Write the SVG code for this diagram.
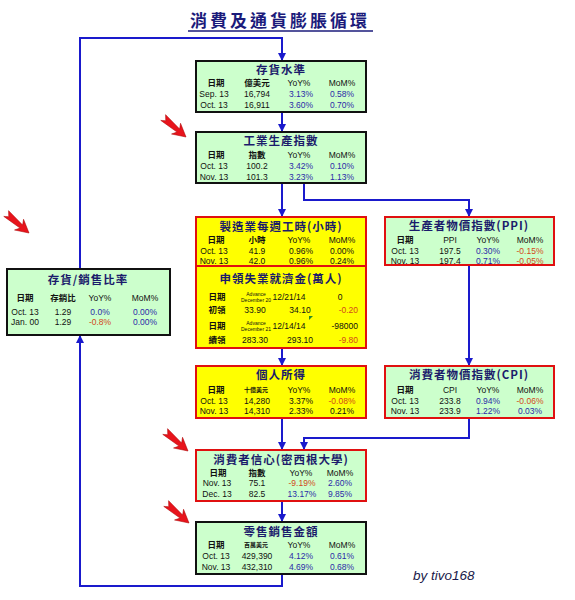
<svg xmlns="http://www.w3.org/2000/svg" width="575" height="600" viewBox="0 0 575 600">
<style>
text{font-family:"Liberation Sans","Noto Sans CJK TC",sans-serif;text-anchor:middle;fill:#111}
.ttl{font-family:"Noto Sans CJK TC","Liberation Sans",sans-serif;font-size:11.5px;font-weight:bold;fill:#1b1b6b;letter-spacing:1px}
.h{font-size:8.5px}
.hc{font-family:"Noto Sans CJK TC",sans-serif;font-size:8.5px;font-weight:bold}
.d{font-size:8.5px}
.u{font-family:"Noto Sans CJK TC",sans-serif;font-size:6px;font-weight:bold}
.tiny{font-size:5px}
.b{fill:#2b2ba8}
.r{fill:#d2491a}
.g{fill:#ccffcc;stroke:#111;stroke-width:2}
.gr{fill:#ccffcc;stroke:#e01010;stroke-width:2}
.y{fill:#ffff00;stroke:#e01010;stroke-width:2}
.c{fill:none;stroke:#1a1acc;stroke-width:2}
.ra{fill:#e8141c;stroke:#a00;stroke-width:0.5}
</style>
<defs>
<marker id="ah" markerUnits="userSpaceOnUse" markerWidth="8" markerHeight="8" refX="7" refY="4" orient="auto">
<path d="M0,0 L8,4 L0,8 z" fill="#1a1acc"/>
</marker>
<polygon id="redarrow" class="ra" points="0,0 -13,-7 -10,-2 -30,-4 -26,0.5 -30,3.5 -10,2 -13,7"/>
</defs>
<rect width="575" height="600" fill="#fff"/>

<g id="title">
<text x="280" y="27" style="font-family:'Noto Sans CJK TC',sans-serif;font-size:17px;font-weight:bold;fill:#1b1b7b;letter-spacing:3px">消費及通貨膨脹循環</text>
<line x1="188" y1="31" x2="373" y2="31" stroke="#1b1b7b" stroke-width="1.5"/>
</g>

<g id="connectors">
<path class="c" d="M80,269 V38 H282 V60" marker-end="url(#ah)"/>
<path class="c" d="M282,112 V131" marker-end="url(#ah)"/>
<path class="c" d="M282,183 V216" marker-end="url(#ah)"/>
<path class="c" d="M304,183 V200 H469 V216" marker-end="url(#ah)"/>
<path class="c" d="M469,265 V365" marker-end="url(#ah)"/>
<path class="c" d="M282,348 V365" marker-end="url(#ah)"/>
<path class="c" d="M282,418 V449" marker-end="url(#ah)"/>
<path class="c" d="M469,418 V438 H304 V449" marker-end="url(#ah)"/>
<path class="c" d="M282,501 V521" marker-end="url(#ah)"/>
<path class="c" d="M282,574 V586 H80 V336" marker-end="url(#ah)"/>
</g>

<g id="red-arrows">
<use href="#redarrow" transform="translate(186,137) rotate(40)"/>
<use href="#redarrow" transform="translate(29,233) rotate(40)"/>
<use href="#redarrow" transform="translate(188,451) rotate(40)"/>
<use href="#redarrow" transform="translate(189,523) rotate(40)"/>
</g>

<g id="inventory">
<rect class="g" x="196" y="61" width="170" height="51"/>
<text class="ttl" x="281" y="74">存貨水準</text>
<text class="hc" x="216" y="86">日期</text><text class="hc" x="257" y="86">億美元</text><text class="h" x="299" y="86">YoY%</text><text class="h" x="342" y="86">MoM%</text>
<text class="d" x="214" y="97">Sep. 13</text><text class="d" x="257" y="97">16,794</text><text class="d b" x="301" y="97">3.13%</text><text class="d b" x="342" y="97">0.58%</text>
<text class="d" x="214" y="108">Oct. 13</text><text class="d" x="257" y="108">16,911</text><text class="d b" x="301" y="108">3.60%</text><text class="d b" x="342" y="108">0.70%</text>
</g>

<g id="industrial">
<rect class="g" x="196" y="132" width="170" height="51"/>
<text class="ttl" x="281" y="145">工業生產指數</text>
<text class="hc" x="216" y="158">日期</text><text class="hc" x="257" y="158">指數</text><text class="h" x="299" y="158">YoY%</text><text class="h" x="342" y="158">MoM%</text>
<text class="d" x="214" y="169">Oct. 13</text><text class="d" x="257" y="169">100.2</text><text class="d b" x="301" y="169">3.42%</text><text class="d b" x="342" y="169">0.10%</text>
<text class="d" x="214" y="179.5">Nov. 13</text><text class="d" x="257" y="179.5">101.3</text><text class="d b" x="301" y="179.5">3.23%</text><text class="d b" x="342" y="179.5">1.13%</text>
</g>

<g id="hours-claims">
<rect class="y" x="196" y="217" width="170" height="131"/>
<line x1="196" y1="266" x2="366" y2="266" stroke="#e01010" stroke-width="2"/>
<text class="ttl" x="281" y="231">製造業每週工時(小時)</text>
<text class="hc" x="216" y="243">日期</text><text class="hc" x="257" y="243">小時</text><text class="h" x="299" y="243">YoY%</text><text class="h" x="342" y="243">MoM%</text>
<text class="d" x="214" y="254">Oct. 13</text><text class="d" x="257" y="254">41.9</text><text class="d" x="301" y="254">0.96%</text><text class="d" x="342" y="254">0.00%</text>
<text class="d" x="214" y="264">Nov. 13</text><text class="d" x="257" y="264">42.0</text><text class="d" x="301" y="264">0.96%</text><text class="d" x="342" y="264">0.24%</text>
<text class="ttl" x="281" y="283">申領失業就濟金(萬人)</text>
<text class="hc" x="217" y="300">日期</text><text class="tiny" x="256" y="296">Advance</text><text class="tiny" x="256" y="302">December 20</text><text class="d" x="289" y="300">12/21/14</text><text class="d" x="340" y="300">0</text>
<text class="hc" x="217" y="313">初領</text><text class="d" x="255" y="313">33.90</text><text class="d" x="300" y="313">34.10</text><text class="d r" x="358" y="313" style="text-anchor:end">-0.20</text>
<text class="hc" x="217" y="329">日期</text><text class="tiny" x="256" y="325">Advance</text><text class="tiny" x="256" y="331">December 21</text><text class="d" x="289" y="329">12/14/14</text><text class="d" x="358" y="329" style="text-anchor:end">-98000</text>
<polygon points="309,316 313,316 309,320" fill="#2a8a2a"/>
<text class="hc" x="217" y="343">續領</text><text class="d" x="255" y="343">283.30</text><text class="d" x="300" y="343">293.10</text><text class="d r" x="358" y="343" style="text-anchor:end">-9.80</text>
</g>

<g id="ppi">
<rect class="gr" x="385" y="217" width="169" height="48"/>
<text class="ttl" x="469" y="230">生產者物價指數(PPI)</text>
<text class="hc" x="405" y="243">日期</text><text class="h" x="450" y="243">PPI</text><text class="h" x="488" y="243">YoY%</text><text class="h" x="530" y="243">MoM%</text>
<text class="d" x="405" y="254">Oct. 13</text><text class="d" x="450" y="254">197.5</text><text class="d b" x="488" y="254">0.30%</text><text class="d r" x="530" y="254">-0.15%</text>
<text class="d" x="405" y="264">Nov. 13</text><text class="d" x="450" y="264">197.4</text><text class="d b" x="488" y="264">0.71%</text><text class="d r" x="530" y="264">-0.05%</text>
</g>

<g id="inv-sales">
<rect class="g" x="7" y="269" width="163" height="66"/>
<text class="ttl" x="88" y="284">存貨/銷售比率</text>
<text class="hc" x="25" y="301">日期</text><text class="hc" x="63" y="301">存銷比</text><text class="h" x="100" y="301">YoY%</text><text class="h" x="145" y="301">MoM%</text>
<text class="d" x="25" y="315">Oct. 13</text><text class="d" x="63" y="315">1.29</text><text class="d b" x="100" y="315">0.0%</text><text class="d b" x="145" y="315">0.00%</text>
<text class="d" x="25" y="325">Jan. 00</text><text class="d" x="63" y="325">1.29</text><text class="d r" x="100" y="325">-0.8%</text><text class="d b" x="145" y="325">0.00%</text>
</g>

<g id="income">
<rect class="y" x="196" y="366" width="170" height="52"/>
<text class="ttl" x="281" y="379">個人所得</text>
<text class="hc" x="216" y="393">日期</text><text class="u" x="256" y="392">十億美元</text><text class="h" x="299" y="393">YoY%</text><text class="h" x="342" y="393">MoM%</text>
<text class="d" x="214" y="404">Oct. 13</text><text class="d" x="257" y="404">14,280</text><text class="d" x="301" y="404">3.37%</text><text class="d r" x="342" y="404">-0.08%</text>
<text class="d" x="214" y="414">Nov. 13</text><text class="d" x="257" y="414">14,310</text><text class="d" x="301" y="414">2.33%</text><text class="d" x="342" y="414">0.21%</text>
</g>

<g id="cpi">
<rect class="gr" x="385" y="366" width="169" height="52"/>
<text class="ttl" x="469" y="379">消費者物價指數(CPI)</text>
<text class="hc" x="405" y="393">日期</text><text class="h" x="450" y="393">CPI</text><text class="h" x="488" y="393">YoY%</text><text class="h" x="530" y="393">MoM%</text>
<text class="d" x="405" y="404">Oct. 13</text><text class="d" x="450" y="404">233.8</text><text class="d b" x="488" y="404">0.94%</text><text class="d r" x="530" y="404">-0.06%</text>
<text class="d" x="405" y="414">Nov. 13</text><text class="d" x="450" y="414">233.9</text><text class="d b" x="488" y="414">1.22%</text><text class="d b" x="530" y="414">0.03%</text>
</g>

<g id="confidence">
<rect class="gr" x="196" y="450" width="170" height="51"/>
<text class="ttl" x="281" y="464">消費者信心(密西根大學)</text>
<text class="hc" x="218" y="476">日期</text><text class="hc" x="257" y="476">指數</text><text class="h" x="301" y="476">YoY%</text><text class="h" x="340" y="476">MoM%</text>
<text class="d" x="217" y="486">Nov. 13</text><text class="d" x="257" y="486">75.1</text><text class="d r" x="302" y="486">-9.19%</text><text class="d b" x="340" y="486">2.60%</text>
<text class="d" x="217" y="497">Dec. 13</text><text class="d" x="257" y="497">82.5</text><text class="d b" x="302" y="497">13.17%</text><text class="d b" x="340" y="497">9.85%</text>
</g>

<g id="retail">
<rect class="g" x="196" y="522" width="170" height="52"/>
<text class="ttl" x="281" y="536">零售銷售金額</text>
<text class="hc" x="216" y="548">日期</text><text class="u" x="256" y="547">百萬美元</text><text class="h" x="299" y="548">YoY%</text><text class="h" x="342" y="548">MoM%</text>
<text class="d" x="216" y="559">Oct. 13</text><text class="d" x="257" y="559">429,390</text><text class="d b" x="301" y="559">4.12%</text><text class="d b" x="342" y="559">0.61%</text>
<text class="d" x="216" y="570">Nov. 13</text><text class="d" x="257" y="570">432,310</text><text class="d b" x="301" y="570">4.69%</text><text class="d b" x="342" y="570">0.68%</text>
</g>

<text x="413" y="580" style="font-size:13.5px;font-style:italic;fill:#1a1a4a;text-anchor:start">by tivo168</text>
</svg>
